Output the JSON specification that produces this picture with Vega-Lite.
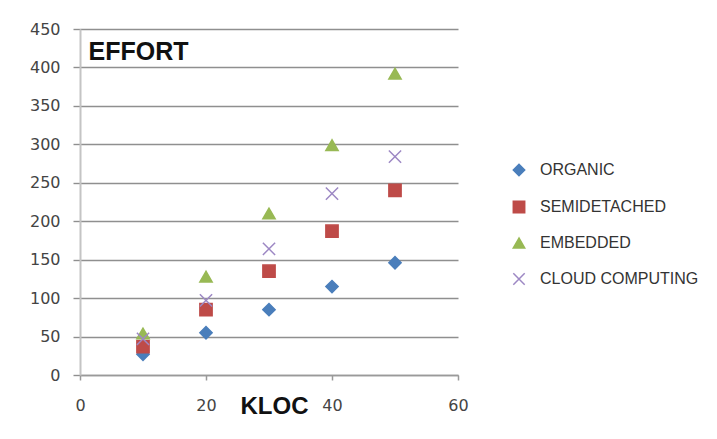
{
  "$schema": "https://vega.github.io/schema/vega-lite/v6.json",
  "autosize": {"type": "none"},
  "width": 378,
  "height": 346,
  "padding": {"left": 80, "top": 29, "right": 259, "bottom": 64},
  "background": "white",
  "config": {
    "view": {"stroke": null},
    "font": "Liberation Sans"
  },
  "data": {
    "values": [
      {"kloc": 10, "effort": 27, "series": "ORGANIC"},
      {"kloc": 20, "effort": 55, "series": "ORGANIC"},
      {"kloc": 30, "effort": 85, "series": "ORGANIC"},
      {"kloc": 40, "effort": 115, "series": "ORGANIC"},
      {"kloc": 50, "effort": 146, "series": "ORGANIC"},
      {"kloc": 10, "effort": 37, "series": "SEMIDETACHED"},
      {"kloc": 20, "effort": 85, "series": "SEMIDETACHED"},
      {"kloc": 30, "effort": 135, "series": "SEMIDETACHED"},
      {"kloc": 40, "effort": 187, "series": "SEMIDETACHED"},
      {"kloc": 50, "effort": 240, "series": "SEMIDETACHED"},
      {"kloc": 10, "effort": 54, "series": "EMBEDDED"},
      {"kloc": 20, "effort": 128, "series": "EMBEDDED"},
      {"kloc": 30, "effort": 210, "series": "EMBEDDED"},
      {"kloc": 40, "effort": 299, "series": "EMBEDDED"},
      {"kloc": 50, "effort": 392, "series": "EMBEDDED"},
      {"kloc": 10, "effort": 47, "series": "CLOUD COMPUTING"},
      {"kloc": 20, "effort": 97, "series": "CLOUD COMPUTING"},
      {"kloc": 30, "effort": 164, "series": "CLOUD COMPUTING"},
      {"kloc": 40, "effort": 236, "series": "CLOUD COMPUTING"},
      {"kloc": 50, "effort": 284, "series": "CLOUD COMPUTING"}
    ]
  },
  "mark": {"type": "point", "filled": true, "size": 150, "strokeWidth": 1.5, "opacity": 1},
  "encoding": {
    "x": {
      "field": "kloc",
      "type": "quantitative",
      "scale": {"domain": [0, 60], "nice": false, "zero": true},
      "axis": {
        "values": [0, 20, 40, 60],
        "grid": false,
        "title": "KLOC",
        "titleFont": "Liberation Sans",
        "titleFontSize": 24,
        "titleFontWeight": "bold",
        "titleColor": "#111111",
        "titleAngle": 0,
        "titleAlign": "center",
        "titleBaseline": "alphabetic",
        "titleX": 194,
        "titleY": 38,
        "domainColor": "#9a9a9a",
        "domainWidth": 1.5,
        "tickColor": "#9a9a9a",
        "tickSize": 5,
        "tickWidth": 1.5,
        "labelFont": "DejaVu Sans",
        "labelFontSize": 16,
        "labelColor": "#444444",
        "labelPadding": 17,
        "labelFlush": false
      }
    },
    "y": {
      "field": "effort",
      "type": "quantitative",
      "scale": {"domain": [0, 450], "nice": false},
      "axis": {
        "values": [0, 50, 100, 150, 200, 250, 300, 350, 400, 450],
        "grid": true,
        "gridColor": "#8f8f8f",
        "gridWidth": 1.4,
        "title": "EFFORT",
        "titleFont": "Liberation Sans",
        "titleFontSize": 25,
        "titleFontWeight": "bold",
        "titleColor": "#111111",
        "titleAngle": 0,
        "titleAlign": "left",
        "titleBaseline": "alphabetic",
        "titleX": 8,
        "titleY": 30,
        "domainColor": "#c4c4c4",
        "domainWidth": 2,
        "tickColor": "#8f8f8f",
        "tickSize": 7,
        "tickWidth": 1.4,
        "labelFont": "DejaVu Sans",
        "labelFontSize": 16,
        "labelColor": "#444444",
        "labelPadding": 13,
        "labelFlush": false
      }
    },
    "fill": {
      "field": "series",
      "type": "nominal",
      "scale": {
        "domain": ["ORGANIC", "SEMIDETACHED", "EMBEDDED", "CLOUD COMPUTING"],
        "range": ["#4a7ebb", "#be4b48", "#98b954", "#9d88c4"]
      },
      "legend": {
        "title": null,
        "orient": "none",
        "legendX": 431,
        "legendY": 133,
        "padding": 0,
        "rowPadding": 19,
        "labelFont": "Liberation Sans",
        "labelFontSize": 16,
        "labelColor": "#333333",
        "labelOffset": 13,
        "symbolSize": 130,
        "symbolStrokeWidth": 1.5
      }
    },
    "stroke": {
      "field": "series",
      "type": "nominal",
      "scale": {
        "domain": ["ORGANIC", "SEMIDETACHED", "EMBEDDED", "CLOUD COMPUTING"],
        "range": ["#4a7ebb", "#be4b48", "#98b954", "#9d88c4"]
      }
    },
    "shape": {
      "field": "series",
      "type": "nominal",
      "scale": {
        "domain": ["ORGANIC", "SEMIDETACHED", "EMBEDDED", "CLOUD COMPUTING"],
        "range": ["diamond", "square", "triangle-up", "M-1,-1L1,1M1,-1L-1,1"]
      }
    }
  }
}
